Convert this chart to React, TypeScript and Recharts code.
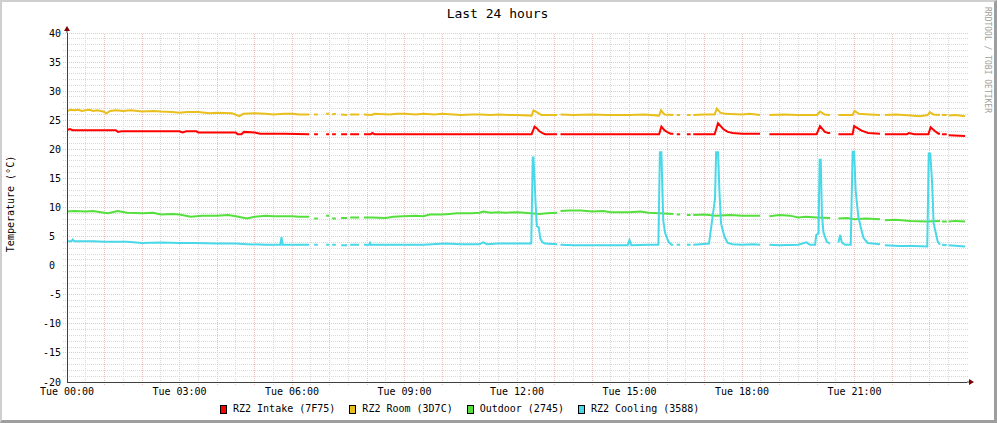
import { LineChart, Line, XAxis, YAxis, ReferenceLine, ReferenceDot } from 'recharts';

type Pt = [number, number | null];

// [hour of day, °C]; null marks a hole in the rrd data
const intake: Pt[] = [
    [0, 23.3], [0.08, 23.5], [0.15, 23.3], [0.6, 23.3], [1.3, 23.3], [1.36, 23.0], [1.45, 23.1], [2.2, 23.1],
    [3.0, 23.1], [3.08, 22.9], [3.18, 23.1], [3.45, 23.1], [3.5, 22.9], [4.1, 22.9], [4.5, 22.9], [4.55, 22.6],
    [4.65, 22.6], [4.72, 23.0], [5.0, 22.9], [5.15, 22.7], [5.8, 22.7], [6.46, 22.6],
    [6.52, null], [6.59, 22.6], [6.69, 22.6], [6.8, null], [6.91, 22.6], [6.99, 22.6], [7.03, null],
    [7.07, 22.6], [7.17, 22.6], [7.24, null], [7.31, 22.6], [7.47, 22.6], [7.51, null], [7.55, 22.6],
    [7.79, 22.6], [7.85, null], [7.92, 22.6], [8.1, 22.6], [8.14, 22.8], [8.2, 22.6],
    [9.5, 22.6], [11.0, 22.6], [12.39, 22.6], [12.47, 23.9], [12.53, 23.6], [12.6, 23.1], [12.68, 22.8],
    [12.75, 22.6], [13.07, 22.6], [13.12, null], [13.16, 22.6], [14.5, 22.6], [15.79, 22.6], [15.85, 23.9],
    [15.93, 23.3], [16.02, 22.9], [16.1, 22.7], [16.17, 22.7], [16.22, null], [16.26, 22.6], [16.35, 22.6],
    [16.45, null], [16.53, 22.6], [16.63, 22.6], [16.67, null], [16.7, 22.6], [17.27, 22.6], [17.36, 24.5],
    [17.5, 23.5], [17.62, 23.0], [17.75, 22.8], [18.0, 22.7], [18.48, 22.7], [18.6, null], [18.73, 22.6],
    [19.99, 22.6], [20.08, 24.0], [20.21, 23.0], [20.3, 22.8], [20.35, 22.8], [20.46, null], [20.57, 22.6],
    [20.95, 22.6], [20.99, 24.0], [21.19, 23.2], [21.36, 22.8], [21.68, 22.7], [21.75, null], [21.81, 22.6],
    [22.4, 22.6], [22.45, 22.8], [22.6, 22.6], [22.97, 22.6], [23.03, 23.8], [23.15, 23.1], [23.24, 22.7],
    [23.28, 22.7], [23.3, null], [23.33, 22.6], [23.46, 22.6], [23.48, null], [23.51, 22.4], [23.95, 22.3],
];

const room: Pt[] = [
    [0, 26.6], [0.1, 26.8], [0.2, 26.7], [0.3, 26.8], [0.4, 26.6], [0.5, 26.7], [0.6, 26.8], [0.7, 26.6],
    [0.8, 26.7], [0.97, 26.5], [1.05, 26.2], [1.15, 26.6], [1.3, 26.7], [1.5, 26.6], [1.7, 26.7], [2.0, 26.5],
    [2.3, 26.6], [2.5, 26.5], [2.8, 26.4], [3.0, 26.3], [3.2, 26.4], [3.5, 26.4], [3.8, 26.2], [4.0, 26.3],
    [4.4, 26.2], [4.6, 25.7], [4.7, 26.1], [5.0, 26.2], [5.3, 26.1], [5.5, 26.0], [5.8, 26.1], [6.0, 26.1],
    [6.2, 26.0], [6.46, 26.0],
    [6.52, null], [6.59, 26.0], [6.69, 26.0], [6.8, null], [6.91, 26.1], [6.99, 26.1], [7.03, null],
    [7.07, 26.0], [7.17, 26.1], [7.24, null], [7.31, 26.0], [7.47, 25.9], [7.51, null], [7.55, 26.0],
    [7.79, 26.0], [7.85, null], [7.92, 26.0], [8.13, 25.9], [8.2, 26.1],
    [8.6, 26.0], [8.8, 26.1], [9.0, 26.1], [9.3, 26.0], [9.5, 26.1], [9.8, 26.0], [10.0, 26.1], [10.3, 26.0],
    [10.5, 25.9], [10.8, 26.0], [11.0, 26.0], [11.3, 25.9], [11.5, 26.0], [11.8, 25.9], [12.0, 25.9],
    [12.39, 25.8], [12.44, 26.7], [12.55, 26.3], [12.65, 25.9], [13.07, 25.9], [13.12, null], [13.16, 26.0],
    [13.5, 25.9], [14.0, 26.0], [14.4, 25.9], [15.0, 25.9], [15.4, 26.0], [15.79, 25.8], [15.84, 26.7],
    [15.93, 26.0], [16.17, 25.9], [16.22, null],
    [16.26, 25.9], [16.35, 25.9], [16.45, null], [16.53, 25.9], [16.63, 25.9], [16.67, null], [16.7, 25.9],
    [17.0, 26.0], [17.27, 26.0], [17.33, 27.0], [17.42, 26.3], [17.55, 26.1], [18.0, 26.0], [18.2, 26.1],
    [18.48, 25.9], [18.6, null], [18.73, 25.9], [19.1, 26.0], [19.5, 25.9], [20.0, 25.9], [20.08, 26.5],
    [20.2, 26.0], [20.35, 25.9], [20.46, null], [20.57, 25.9], [20.95, 25.9], [21.0, 26.6], [21.12, 26.1],
    [21.4, 26.0], [21.68, 25.9], [21.75, null], [21.81, 25.9], [22.1, 26.0], [22.5, 25.8], [22.75, 25.7],
    [22.95, 25.9], [23.01, 26.4], [23.1, 26.0], [23.28, 25.9], [23.3, null],
    [23.33, 25.9], [23.46, 25.9], [23.48, null], [23.51, 25.8], [23.7, 25.9], [23.95, 25.7],
];

const outdoor: Pt[] = [
    [0, 9.3], [0.2, 9.4], [0.5, 9.3], [0.7, 9.4], [0.9, 9.2], [1.1, 9.0], [1.35, 9.4], [1.6, 9.1], [2.0, 9.0],
    [2.3, 9.1], [2.5, 8.8], [2.8, 8.9], [3.0, 8.8], [3.3, 8.4], [3.6, 8.6], [4.0, 8.6], [4.3, 8.7], [4.5, 8.5],
    [4.8, 8.1], [5.0, 8.4], [5.3, 8.6], [5.5, 8.5], [6.0, 8.5], [6.2, 8.4], [6.46, 8.4],
    [6.52, null], [6.59, 8.1], [6.69, 8.1], [6.8, null], [6.91, 8.6], [6.99, 8.6], [7.03, null], [7.07, 8.1],
    [7.17, 8.1], [7.24, null], [7.31, 8.2], [7.47, 8.2], [7.51, null], [7.55, 8.3], [7.79, 8.3], [7.85, null],
    [7.92, 8.3], [8.13, 8.3], [8.5, 8.2], [8.7, 8.4], [8.97, 8.5], [9.3, 8.6], [9.5, 8.5], [9.68, 8.8],
    [10.0, 8.8], [10.2, 8.9], [10.39, 9.0], [10.8, 9.0], [11.0, 9.1], [11.1, 9.3], [11.3, 9.1], [11.5, 9.2],
    [11.7, 9.1], [12.0, 9.2], [12.2, 9.1], [12.6, 8.9], [12.8, 9.0], [13.07, 9.1], [13.12, null],
    [13.16, 9.4], [13.4, 9.5], [13.7, 9.5], [14.0, 9.3], [14.3, 9.4], [14.5, 9.2], [15.0, 9.2], [15.3, 9.3],
    [15.5, 9.1], [15.8, 9.0], [16.17, 8.9],
    [16.22, null], [16.26, 8.8], [16.35, 8.8], [16.45, null], [16.53, 8.7], [16.63, 8.7], [16.67, null],
    [16.7, 8.7], [17.0, 8.8], [17.3, 8.6], [17.7, 8.7], [18.0, 8.6], [18.48, 8.6], [18.6, null], [18.73, 8.5],
    [19.0, 8.7], [19.28, 8.6], [19.5, 8.3], [19.7, 8.4], [20.0, 8.3], [20.35, 8.2], [20.46, null], [20.57, 8.1],
    [20.8, 8.2], [21.0, 8.0], [21.3, 8.1], [21.68, 8.0], [21.75, null],
    [21.81, 7.8], [22.1, 7.9], [22.5, 7.7], [22.9, 7.6], [23.28, 7.7], [23.3, null], [23.33, 7.6], [23.46, 7.6],
    [23.48, null], [23.51, 7.6], [23.7, 7.7], [23.95, 7.6],
];

const cooling: Pt[] = [
    [0, 4.2], [0.12, 4.2], [0.15, 4.5], [0.2, 4.2], [0.7, 4.2], [1.0, 4.1], [1.6, 4.1], [2.0, 3.9], [2.5, 4.0],
    [3.0, 3.9], [3.4, 3.9], [4.0, 3.8], [4.5, 3.8], [4.8, 3.7], [5.3, 3.6], [5.69, 3.6], [5.72, 4.9], [5.75, 3.6],
    [6.0, 3.6], [6.46, 3.6],
    [6.52, null], [6.59, 3.6], [6.69, 3.6], [6.8, null], [6.91, 3.6], [6.99, 3.6], [7.03, null], [7.07, 3.6],
    [7.17, 3.6], [7.24, null], [7.31, 3.5], [7.47, 3.5], [7.51, null], [7.55, 3.6], [7.79, 3.6], [7.85, null],
    [7.92, 3.6], [8.06, 3.6], [8.08, 3.9], [8.1, 3.6], [9.0, 3.6], [9.5, 3.6], [10.1, 3.8], [10.5, 3.7],
    [11.0, 3.7], [11.1, 4.0], [11.2, 3.7], [11.5, 3.8], [12.0, 3.8],
    [12.38, 3.8], [12.42, 18.6], [12.44, 18.6], [12.5, 10.1], [12.53, 6.8], [12.58, 6.6], [12.62, 4.7],
    [12.68, 4.0], [12.75, 3.8], [13.07, 3.7], [13.12, null], [13.16, 3.6], [13.5, 3.5], [14.0, 3.5], [14.5, 3.5],
    [14.95, 3.5], [15.0, 4.4], [15.05, 3.5], [15.5, 3.6],
    [15.77, 3.6], [15.81, 19.5], [15.85, 19.5], [15.9, 7.8], [15.95, 5.6], [16.04, 4.1], [16.12, 3.6],
    [16.17, 3.6], [16.22, null], [16.26, 3.6], [16.35, 3.6], [16.45, null], [16.53, 3.6], [16.63, 3.6],
    [16.67, null], [16.7, 3.6], [16.9, 3.7], [17.12, 3.8],
    [17.28, 11.5], [17.31, 19.5], [17.36, 19.5], [17.4, 12.5], [17.44, 7.3], [17.53, 5.0], [17.62, 3.9],
    [17.75, 3.7], [18.0, 3.6], [18.3, 3.7], [18.48, 3.6], [18.6, null], [18.73, 3.6], [19.0, 3.5], [19.5, 3.6],
    [19.72, 4.0], [19.81, 3.6], [19.95, 3.6],
    [19.98, 5.3], [20.04, 5.5], [20.07, 18.2], [20.1, 18.2], [20.13, 9.0], [20.17, 5.8], [20.26, 4.1],
    [20.35, 3.8], [20.46, null], [20.57, 4.0], [20.62, 5.3], [20.66, 4.0], [20.75, 3.6], [20.9, 3.6],
    [20.95, 19.6], [20.99, 19.6], [21.03, 13.0], [21.1, 8.5], [21.17, 6.5], [21.24, 4.8], [21.35, 3.9],
    [21.5, 3.8], [21.68, 3.7], [21.75, null], [21.81, 3.5], [22.2, 3.4], [22.6, 3.4], [22.94, 3.3],
    [22.98, 19.3], [23.02, 19.3], [23.07, 14.2], [23.11, 7.3], [23.22, 4.1], [23.28, 3.6], [23.3, null],
    [23.33, 3.6], [23.46, 3.5], [23.48, null], [23.51, 3.5], [23.95, 3.3],
];

const SERIES = [
    { name: 'RZ2 Intake (7F75)', color: '#ff0000', points: intake },
    { name: 'RZ2 Room (3D7C)', color: '#e8bf1c', points: room },
    { name: 'Outdoor (2745)', color: '#54df3c', points: outdoor },
    { name: 'RZ2 Cooling (3588)', color: '#48d8e8', points: cooling },
];

const xTicks = [0, 3, 6, 9, 12, 15, 18, 21];
const yTicks = [-20, -15, -10, -5, 0, 5, 10, 15, 20, 25, 30, 35, 40];
const majorTemps = [-15, -10, -5, 0, 5, 10, 15, 20, 25, 30, 35, 40];
const minorTemps = Array.from({ length: 60 }, (_, i) => i - 19).filter(v => v % 5 !== 0);
const majorHours = Array.from({ length: 23 }, (_, i) => i + 1);
const minorHours = Array.from({ length: 24 }, (_, i) => i + 0.5);

const FONT = '"DejaVu Sans Mono", monospace';
const MINOR = '#dadada';
const MAJOR = '#f1c3c3';
const AXIS = '#404040';
const ARROW = '#7f0000';

const W = 997;
const H = 423;

const fmtHour = (h: number) => `Tue ${String(h).padStart(2, '0')}:00`;
// rrdtool pads one-digit labels on the right
const fmtTemp = (v: number) => (String(v).length < 2 ? `${v}\u00a0` : String(v));

export default function App() {
    return (
        <div style={{ position: 'absolute', left: 0, top: 0, width: W, height: H, background: '#fff' }}>
            <LineChart width={W} height={H} margin={{ top: 33, right: 30, bottom: 11, left: 27 }}>
                {minorTemps.map(v => (
                    <ReferenceLine key={'mt' + v} segment={[{ x: -0.1, y: v }, { x: 24.04, y: v }]}
                        stroke={MINOR} strokeDasharray="1 1" ifOverflow="visible" shapeRendering="crispEdges" />
                ))}
                {minorHours.map(h => (
                    <ReferenceLine key={'mh' + h} segment={[{ x: h, y: -20.5 }, { x: h, y: 40 }]}
                        stroke={MINOR} strokeDasharray="1 1" ifOverflow="visible" shapeRendering="crispEdges" />
                ))}
                {majorTemps.map(v => (
                    <ReferenceLine key={'Mt' + v} segment={[{ x: -0.1, y: v }, { x: 24.04, y: v }]}
                        stroke={MAJOR} strokeDasharray="1 1" ifOverflow="visible" shapeRendering="crispEdges" />
                ))}
                {majorHours.map(h => (
                    <ReferenceLine key={'Mh' + h} segment={[{ x: h, y: -20.6 }, { x: h, y: 40 }]}
                        stroke={MAJOR} strokeDasharray="1 1" ifOverflow="visible" shapeRendering="crispEdges" />
                ))}
                <XAxis type="number" dataKey="t" domain={[0, 24]} allowDataOverflow ticks={xTicks}
                    tickFormatter={fmtHour} height={30} tickLine={false} tickSize={0} tickMargin={6}
                    axisLine={{ stroke: AXIS, shapeRendering: 'crispEdges' }}
                    tick={{ fontFamily: FONT, fontSize: 10, fill: '#000' }} />
                <YAxis type="number" domain={[-20, 40]} allowDataOverflow ticks={yTicks}
                    tickFormatter={fmtTemp} width={40} tickLine={false} tickSize={0} tickMargin={6}
                    axisLine={{ stroke: AXIS, shapeRendering: 'crispEdges' }}
                    tick={{ fontFamily: FONT, fontSize: 10, fill: '#000' }} />
                {SERIES.map(s => (
                    <Line key={s.name} name={s.name} data={s.points.map(([t, v]) => ({ t, v }))}
                        dataKey="v" type="linear" stroke={s.color} strokeWidth={2} dot={false}
                        activeDot={false} connectNulls={false} isAnimationActive={false} />
                ))}
                <ReferenceDot x={24} y={-20} ifOverflow="visible" shape={(p: any) => (
                    <g>
                        <line x1={p.cx} y1={p.cy} x2={p.cx + 3} y2={p.cy} stroke={AXIS} />
                        <polygon points={`${p.cx + 2},${p.cy - 3} ${p.cx + 7},${p.cy} ${p.cx + 2},${p.cy + 3}`} fill={ARROW} />
                    </g>
                )} />
                <ReferenceDot x={0} y={40} ifOverflow="visible" shape={(p: any) => (
                    <g>
                        <line x1={p.cx} y1={p.cy} x2={p.cx} y2={p.cy - 3} stroke={AXIS} />
                        <polygon points={`${p.cx - 3},${p.cy - 2} ${p.cx},${p.cy - 7} ${p.cx + 3},${p.cy - 2}`} fill={ARROW} />
                    </g>
                )} />
            </LineChart>

            <svg width={W} height={H} style={{ position: 'absolute', left: 0, top: 0, pointerEvents: 'none' }}>
                <text x={497.5} y={18} textAnchor="middle" fontFamily={FONT} fontSize={13} fill="#000">Last 24 hours</text>
                <text transform="translate(14,204) rotate(-90)" textAnchor="middle" fontFamily={FONT} fontSize={10} fill="#000">
                    Temperature (°C)
                </text>
                <text transform="translate(985,60) rotate(90)" textAnchor="middle" fontFamily={FONT} fontSize={8} fill="#a0a0a0">
                    RRDTOOL / TOBI OETIKER
                </text>
            </svg>

            <div style={{
                position: 'absolute', left: 220, top: 404, display: 'flex', alignItems: 'center',
                fontFamily: FONT, fontSize: 10, lineHeight: '10px', color: '#000', whiteSpace: 'pre',
            }}>
                {SERIES.map(s => (
                    <span key={s.name} style={{ display: 'flex', alignItems: 'center', marginRight: 14 }}>
                        <span style={{
                            display: 'inline-block', width: 5, height: 7, background: s.color,
                            border: '1px solid #000', marginRight: 6,
                        }} />
                        {s.name}
                    </span>
                ))}
            </div>

            <div style={{
                position: 'absolute', left: 0, top: 0, width: W, height: H, boxSizing: 'border-box',
                borderTop: '2px solid #cfcfcf', borderLeft: '2px solid #cfcfcf',
                borderRight: '3px solid #9e9e9e', borderBottom: '3px solid #9e9e9e', pointerEvents: 'none',
            }} />
        </div>
    );
}
